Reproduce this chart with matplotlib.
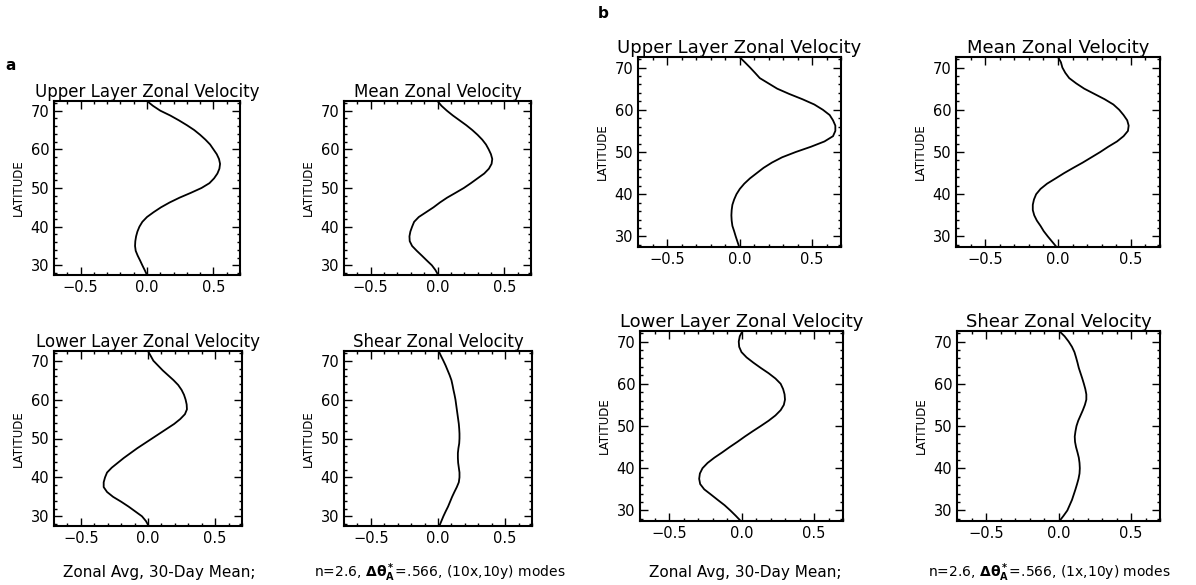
import matplotlib.pyplot as plt
from matplotlib.ticker import MultipleLocator

lat = [72.5, 71.25, 70, 68.75, 67.5, 66.25, 65, 63.75, 62.5, 61.25,
       60, 58.75, 57.5, 56.25, 55, 53.75, 52.5, 51.25, 50, 48.75,
       47.5, 46.25, 45, 43.75, 42.5, 41.25, 40, 38.75, 37.5, 36.25,
       35, 33.75, 32.5, 31.25, 30, 28.75, 27.5]

# panel a: (10x,10y) modes
a_upper = [0.0, 0.045, 0.1, 0.175, 0.24, 0.3, 0.355, 0.4, 0.44, 0.475,
           0.5, 0.525, 0.542, 0.55, 0.545, 0.53, 0.505, 0.47, 0.41, 0.33,
           0.245, 0.17, 0.105, 0.05, 0.0, -0.035, -0.057, -0.072, -0.082,
           -0.088, -0.09, -0.085, -0.07, -0.052, -0.035, -0.017, 0.0]
a_mean = [0.0, 0.03, 0.07, 0.115, 0.165, 0.215, 0.26, 0.3, 0.335, 0.363,
          0.383, 0.4, 0.41, 0.405, 0.385, 0.35, 0.3, 0.25, 0.197, 0.135,
          0.072, 0.018, -0.03, -0.085, -0.14, -0.175, -0.19, -0.203, -0.21,
          -0.208, -0.19, -0.155, -0.117, -0.08, -0.042, -0.015, 0.005]
a_lower = [0.0, 0.02, 0.04, 0.075, 0.11, 0.15, 0.19, 0.225, 0.25, 0.268,
           0.28, 0.288, 0.29, 0.275, 0.24, 0.195, 0.14, 0.085, 0.03, -0.025,
           -0.08, -0.13, -0.18, -0.225, -0.27, -0.305, -0.32, -0.33, -0.33,
           -0.305, -0.26, -0.2, -0.145, -0.095, -0.045, -0.015, 0.005]
a_shear = [0.005, 0.022, 0.04, 0.057, 0.072, 0.087, 0.1, 0.108, 0.115, 0.123,
           0.13, 0.135, 0.14, 0.145, 0.15, 0.155, 0.158, 0.16, 0.16, 0.158,
           0.152, 0.148, 0.148, 0.15, 0.155, 0.16, 0.16, 0.155, 0.14,
           0.122, 0.105, 0.09, 0.075, 0.057, 0.04, 0.025, 0.01]

# panel b: (1x,10y) modes
b_upper = [0.0, 0.037, 0.073, 0.107, 0.14, 0.2, 0.26, 0.343, 0.434, 0.516,
           0.575, 0.622, 0.645, 0.661, 0.661, 0.645, 0.586, 0.493, 0.388,
           0.294, 0.224, 0.166, 0.119, 0.072, 0.033, 0.002, -0.021, -0.037,
           -0.049, -0.054, -0.056, -0.054, -0.049, -0.037, -0.026, -0.014,
           -0.002]
b_mean = [0.0, 0.02, 0.03, 0.05, 0.077, 0.125, 0.18, 0.25, 0.32, 0.38,
          0.42, 0.45, 0.475, 0.485, 0.48, 0.45, 0.405, 0.345, 0.29, 0.23,
          0.17, 0.105, 0.042, -0.016, -0.075, -0.12, -0.15, -0.165, -0.173,
          -0.173, -0.163, -0.145, -0.12, -0.098, -0.07, -0.04, -0.01]
b_lower = [0.007, -0.012, -0.019, -0.016, 0.0, 0.035, 0.082, 0.133, 0.187,
           0.234, 0.27, 0.287, 0.297, 0.3, 0.292, 0.27, 0.234, 0.187, 0.133,
           0.077, 0.023, -0.028, -0.082, -0.133, -0.187, -0.234, -0.269,
           -0.287, -0.292, -0.285, -0.257, -0.21, -0.164, -0.117, -0.077,
           -0.04, -0.005]
b_shear = [0.005, 0.042, 0.07, 0.093, 0.11, 0.121, 0.131, 0.14, 0.152, 0.164,
           0.175, 0.185, 0.192, 0.192, 0.182, 0.168, 0.152, 0.136, 0.124,
           0.117, 0.112, 0.114, 0.121, 0.131, 0.14, 0.145, 0.147, 0.145,
           0.138, 0.128, 0.117, 0.105, 0.093, 0.077, 0.061, 0.035, 0.007]

titles = ['Upper Layer Zonal Velocity', 'Mean Zonal Velocity',
          'Lower Layer Zonal Velocity', 'Shear Zonal Velocity']

W, H = 1196, 585
plt.rcParams['font.family'] = ['DejaVu Sans']


def px_axes(fig, left, right, top, bottom):
    """axes placed by pixel edges (top-left origin)"""
    return fig.add_axes([left / W, (H - bottom) / H,
                         (right - left) / W, (bottom - top) / H])


def draw_panel(ax, vel, title, fs_title):
    ax.plot(vel, lat, color='black', lw=1.3)
    ax.set_xlim(-0.7, 0.7)
    ax.set_ylim(27.5, 72.5)
    ax.set_xticks([-0.5, 0.0, 0.5])
    ax.set_yticks([30, 40, 50, 60, 70])
    ax.xaxis.set_minor_locator(MultipleLocator(0.1))
    ax.yaxis.set_minor_locator(MultipleLocator(2))
    ax.tick_params(which='both', direction='in', top=True, right=True,
                   labelsize=10.5, width=1.0)
    ax.tick_params(which='major', length=6)
    ax.tick_params(which='minor', length=2.5)
    for s in ax.spines.values():
        s.set_linewidth(1.5)
    ax.set_title(title, fontsize=fs_title, pad=2)
    ax.set_ylabel('LATITUDE', fontsize=8.5, labelpad=4)


fig = plt.figure(figsize=(W / 100, H / 100), dpi=100)

# panel a
boxes_a = [(54, 240, 101, 275), (344, 531, 101, 275),
           (54, 242, 351, 526), (344, 532, 351, 526)]
for box, vel, t in zip(boxes_a, [a_upper, a_mean, a_lower, a_shear], titles):
    draw_panel(px_axes(fig, *box), vel, t, 12)

# panel b
boxes_b = [(638, 841, 57, 247), (956, 1160, 57, 247),
           (640, 843, 331, 521), (957, 1160, 331, 521)]
for box, vel, t in zip(boxes_b, [b_upper, b_mean, b_lower, b_shear], titles):
    draw_panel(px_axes(fig, *box), vel, t, 13)

fig.text(5 / W, 1 - 66 / H, 'a', fontsize=11, fontweight='bold', va='center')
fig.text(598 / W, 1 - 13 / H, 'b', fontsize=11, fontweight='bold', va='center')

# captions under the columns
note = r'n=2.6, $\mathbf{\Delta\theta_A^*}$=.566, ({}) modes'
fig.text(159 / W, 1 - 573 / H, 'Zonal Avg, 30-Day Mean;', fontsize=11,
         ha='center', va='center')
fig.text(440 / W, 1 - 573 / H, note.replace('{}', '10x,10y'), fontsize=10,
         ha='center', va='center')
fig.text(745 / W, 1 - 573 / H, 'Zonal Avg, 30-Day Mean;', fontsize=11,
         ha='center', va='center')
fig.text(1049 / W, 1 - 573 / H, note.replace('{}', '1x,10y'), fontsize=10,
         ha='center', va='center')

fig.savefig('out.png', dpi=100)
